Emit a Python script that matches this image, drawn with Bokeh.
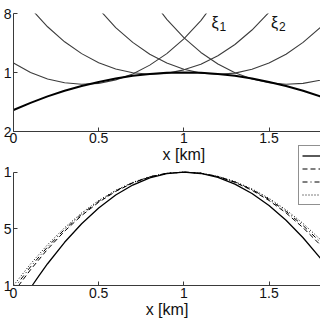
from bokeh.plotting import figure
from bokeh.layouts import column
from bokeh.models import Range1d, FixedTicker, Legend, LegendItem, Label
from bokeh.embed import file_html
from bokeh.resources import INLINE

# ---------------- data: top panel (depth, km) ----------------
ref_x = [0.0, 0.1, 0.2, 0.3, 0.4, 0.5, 0.6, 0.7, 0.8, 0.9, 1.0, 1.1, 1.2, 1.3, 1.4, 1.5, 1.6, 1.7, 1.8, 1.85]
ref_y = [-1.127, -1.103, -1.081, -1.062, -1.046, -1.032, -1.020, -1.011, -1.005, -1.001, -1.000,
         -1.001, -1.005, -1.011, -1.020, -1.032, -1.046, -1.062, -1.081, -1.092]

xi1_x = [0.0, 0.1, 0.2, 0.3, 0.4, 0.5, 0.6, 0.7, 0.8, 0.9, 1.0, 1.1, 1.2]
xi1_y = [-0.968, -1.000, -1.022, -1.035, -1.040, -1.037, -1.025, -1.005, -0.975, -0.936, -0.886, -0.824, -0.747]

xi2_x = [0.0, 0.1, 0.2, 0.3, 0.4, 0.5, 0.6, 0.7, 0.8, 0.9, 1.0, 1.1, 1.2, 1.3, 1.4, 1.5, 1.6]
xi2_y = [-0.704, -0.782, -0.845, -0.896, -0.936, -0.967, -0.988, -1.001, -1.006, -1.003, -0.991,
         -0.972, -0.943, -0.905, -0.856, -0.796, -0.721]

xi3_x = [0.4, 0.5, 0.6, 0.7, 0.8, 0.9, 1.0, 1.1, 1.2, 1.3, 1.4, 1.5, 1.6, 1.7, 1.8, 1.9]
xi3_y = [-0.706, -0.784, -0.848, -0.898, -0.938, -0.968, -0.989, -1.002, -1.006, -1.002, -0.989,
         -0.968, -0.938, -0.898, -0.848, -0.784]

xi4_x = [0.8, 0.9, 1.0, 1.1, 1.2, 1.3, 1.4, 1.5, 1.6, 1.7, 1.8, 1.9]
xi4_y = [-0.744, -0.820, -0.882, -0.932, -0.971, -1.001, -1.022, -1.035, -1.040, -1.037, -1.026, -1.008]

x_ticks = [0, 0.5, 1, 1.5]
top_yticks = [-1.2, -1.0, -0.8]
top_ylabels = {-1.2: "2", -1.0: "1", -0.8: "8"}

# ---------------- data: bottom panel ----------------
sol_x = [0.11, 0.15, 0.2, 0.3, 0.4, 0.5, 0.6, 0.7, 0.8, 0.9, 1.0, 1.1, 1.2, 1.3, 1.4, 1.5, 1.6, 1.7, 1.8, 1.85]
sol_y = [0.0, 0.088, 0.192, 0.381, 0.545, 0.684, 0.798, 0.886, 0.949, 0.987, 1.0,
         0.988, 0.953, 0.894, 0.811, 0.705, 0.575, 0.421, 0.244, 0.15]

b_x = [0.0, 0.1, 0.2, 0.3, 0.4, 0.5, 0.6, 0.7, 0.8, 0.9, 1.0, 1.1, 1.2, 1.3, 1.4, 1.5, 1.6, 1.7, 1.8, 1.85]
dash_y = [-0.06, 0.139, 0.320, 0.479, 0.617, 0.734, 0.830, 0.904, 0.957, 0.989, 1.0,
          0.990, 0.960, 0.910, 0.840, 0.750, 0.640, 0.510, 0.360, 0.28]
dashdot_y = [-0.03, 0.165, 0.340, 0.495, 0.629, 0.742, 0.835, 0.907, 0.959, 0.990, 1.0,
             0.990, 0.962, 0.913, 0.846, 0.760, 0.654, 0.529, 0.385, 0.31]
dot_y = [0.0, 0.190, 0.360, 0.510, 0.640, 0.750, 0.840, 0.910, 0.960, 0.990, 1.0,
         0.991, 0.963, 0.917, 0.852, 0.769, 0.667, 0.547, 0.408, 0.34]

bot_yticks = [0.0, 0.5, 1.0]
bot_ylabels = {0.0: "1", 0.5: "5", 1.0: "1"}
legend_labels = ["", "", "", ""]   # legend texts lie beyond the right edge in the reference

FONT = "Liberation Sans"
AX = "#3a3a3a"
TXT = "#111111"

TOP_CANVAS = 145          # top figure: 13 + 115 frame + tick labels


def style(p, yticks, ylabels, xstand):
    p.xaxis.ticker = FixedTicker(ticks=x_ticks)
    p.yaxis.ticker = FixedTicker(ticks=yticks)
    p.yaxis.major_label_overrides = ylabels
    for ax in (p.xaxis[0], p.yaxis[0]):
        ax.major_tick_in = 4
        ax.major_tick_out = 0
        ax.minor_tick_line_color = None
        ax.axis_line_color = AX
        ax.major_tick_line_color = AX
        ax.major_label_text_font = FONT
        ax.major_label_text_font_size = "14px"
        ax.major_label_text_color = TXT
    p.xaxis.major_label_standoff = xstand
    p.yaxis.major_label_standoff = 2
    p.grid.visible = False
    p.outline_line_color = None
    p.background_fill_color = "white"
    p.border_fill_color = "white"


# ---------------- top panel ----------------
top = figure(width=320, height=TOP_CANVAS, min_border_left=10, min_border_right=0,
             min_border_top=13, min_border_bottom=0,
             x_range=Range1d(0, 1.8023), y_range=Range1d(-1.2, -0.8),
             toolbar_location=None, output_backend="svg")
style(top, top_yticks, top_ylabels, 1)

thin = "#3c3c3c"
for xs, ys in ((xi1_x, xi1_y), (xi2_x, xi2_y), (xi3_x, xi3_y), (xi4_x, xi4_y)):
    top.line(xs, ys, line_color=thin, line_width=1.1)
top.line(ref_x, ref_y, line_color="black", line_width=2)

for xv, sub in ((1.163, "1"), (1.512, "2")):
    top.add_layout(Label(x=xv, y=-0.8, text="ξ", text_font=FONT, text_font_size="16px",
                         text_baseline="top", text_color=TXT))
    top.add_layout(Label(x=xv + 0.046, y=-0.829, text=sub, text_font=FONT, text_font_size="12px",
                         text_baseline="top", text_color=TXT))

# ---------------- bottom panel (frame reaches up so the legend can sit above y = 1) ----------------
y_top = 1.0 + (172 - TOP_CANVAS) / 115.0
bot = figure(width=320, height=320 - TOP_CANVAS, min_border_left=10, min_border_right=0,
             min_border_top=0, min_border_bottom=0,
             x_range=Range1d(0, 1.8023), y_range=Range1d(0, y_top),
             toolbar_location=None, output_backend="svg")
style(bot, bot_yticks, bot_ylabels, 2)
bot.yaxis.bounds = (0, 1)
bot.xaxis.axis_label = "x [km]"
bot.xaxis.axis_label_text_font = FONT
bot.xaxis.axis_label_text_font_size = "16px"
bot.xaxis.axis_label_text_font_style = "normal"
bot.xaxis.axis_label_text_color = TXT
bot.xaxis.axis_label_standoff = 0

# x label of the upper panel, drawn just under that panel's tick labels
bot.add_layout(Label(x=1.0, y=y_top, text="x [km]", text_align="center", text_baseline="top",
                     text_font=FONT, text_font_size="16px", text_color=TXT))

r1 = bot.line(sol_x, sol_y, line_color="black", line_width=1.3)
r2 = bot.line(b_x, dash_y, line_color="black", line_width=1, line_dash="5 3")
r3 = bot.line(b_x, dashdot_y, line_color="black", line_width=1, line_dash="5 3 1 3")
r4 = bot.line(b_x, dot_y, line_color="black", line_width=1, line_dash="1 2")

leg = Legend(items=[LegendItem(label=legend_labels[i], renderers=[r]) for i, r in enumerate((r1, r2, r3, r4))],
             location=(285, 80), orientation="vertical", padding=3, spacing=0,
             label_height=13, glyph_height=13, glyph_width=24, margin=0,
             border_line_color="#222222", border_line_width=1,
             background_fill_color="white", background_fill_alpha=1,
             label_text_font=FONT, label_text_font_size="12px")
bot.add_layout(leg)

layout = column(top, bot, spacing=0)
open("out.html", "w").write(file_html(layout, INLINE))
